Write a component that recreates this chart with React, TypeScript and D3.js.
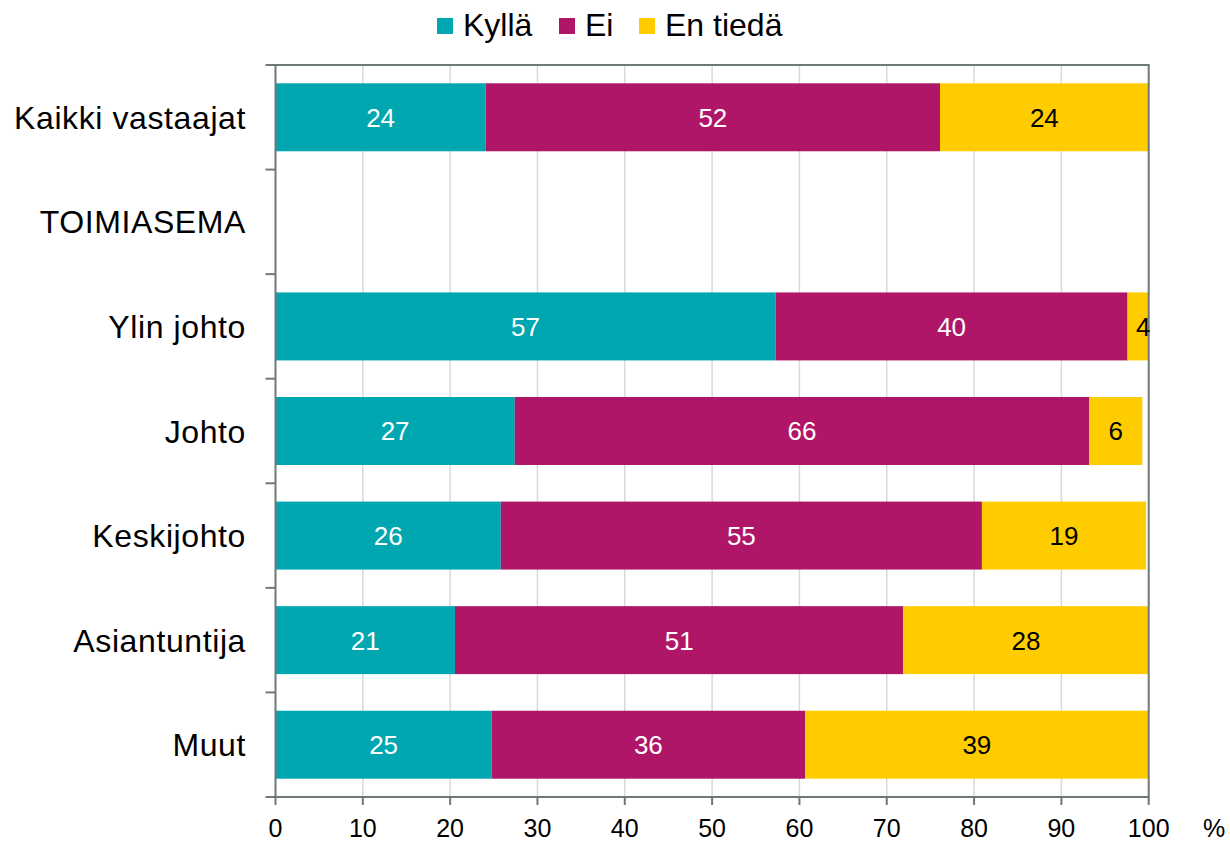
import React from "react";
import * as d3 from "d3";

const categories = ["Kaikki vastaajat", "TOIMIASEMA", "Ylin johto", "Johto", "Keskijohto", "Asiantuntija", "Muut"];
const kylla: (number | null)[] = [24.07, null, 57.28, 27.4, 25.8, 20.56, 24.76];
const ei: (number | null)[] = [52.03, null, 40.3, 65.8, 55.1, 51.34, 35.88];
const enTieda: (number | null)[] = [23.9, null, 3.6, 6.07, 18.8, 28.1, 39.36];
const seriesNames = ["Kyllä", "Ei", "En tiedä"];
const seriesColors = ["#00a6b0", "#b01667", "#ffcc00"];
const labelColors = ["#ffffff", "#ffffff", "#000000"];
const xTicks = [0, 10, 20, 30, 40, 50, 60, 70, 80, 90, 100];

const W = 1230;
const H = 842;
const M = { left: 275.5, right: 1148.7, top: 65, bottom: 797 };
const FONT = "'Liberation Sans', Arial, sans-serif";

export default function App() {
  const x = d3.scaleLinear().domain([0, 100]).range([M.left, M.right]);
  const y = d3
    .scaleBand<string>()
    .domain(categories)
    .range([M.top, M.bottom])
    .paddingInner(0.35)
    .paddingOuter(0.175);
  const step = y.step();
  const series = [kylla, ei, enTieda];
  const fmt = d3.format(".0f");

  const segs: any[] = [];
  categories.forEach((c, i) => {
    let acc = 0;
    series.forEach((s, si) => {
      const v = s[i];
      if (v == null) return;
      segs.push({ c, si, x0: acc, x1: acc + v, v });
      acc += v;
    });
  });

  const boundaries = d3.range(categories.length + 1).map((k) => M.top + k * step);

  const legendFont = 32;
  const sq = 16;
  const legendX = [437, 559, 639];

  return (
    <svg width={W} height={H} style={{ display: "block", position: "absolute", left: 0, top: 0 }} fontFamily={FONT}>
      <defs>
        <clipPath id="plotClip">
          <rect x={M.left} y={M.top} width={M.right - M.left} height={M.bottom - M.top} />
        </clipPath>
      </defs>
      <rect x={0} y={0} width={W} height={H} fill="#fff" />
      {xTicks.slice(1, -1).map((t) => (
        <line key={t} x1={x(t)} x2={x(t)} y1={M.top} y2={M.bottom} stroke="#d9d9d9" strokeWidth={1.5} />
      ))}
      <g clipPath="url(#plotClip)">
        {segs.map((s, k) => (
          <rect
            key={k}
            x={x(s.x0)}
            y={y(s.c)!}
            width={x(s.x1) - x(s.x0)}
            height={y.bandwidth()}
            fill={seriesColors[s.si]}
          />
        ))}
      </g>
      <rect x={M.left} y={M.top} width={M.right - M.left} height={M.bottom - M.top} fill="none" stroke="#6f7879" strokeWidth={2} />
      {boundaries.map((b, k) => (
        <line key={k} x1={M.left - 10} x2={M.left} y1={b} y2={b} stroke="#6f7879" strokeWidth={2} />
      ))}
      {xTicks.map((t) => (
        <g key={t}>
          <line x1={x(t)} x2={x(t)} y1={M.bottom} y2={M.bottom + 8} stroke="#6f7879" strokeWidth={2} />
          <text x={x(t)} y={837} textAnchor="middle" fontSize={25} fill="#000">
            {t}
          </text>
        </g>
      ))}
      <text x={1214} y={837} textAnchor="middle" fontSize={25} fill="#000">
        %
      </text>
      {categories.map((c) => (
        <text
          key={c}
          x={246}
          y={y(c)! + y.bandwidth() / 2}
          dy="0.36em"
          textAnchor="end"
          fontSize={32}
          letterSpacing={0.6}
          fill="#000"
        >
          {c}
        </text>
      ))}
      {segs.map((s, k) => (
        <text
          key={k}
          x={(x(s.x0) + x(s.x1)) / 2}
          y={y(s.c)! + y.bandwidth() / 2}
          dy="0.36em"
          textAnchor="middle"
          fontSize={26}
          fill={labelColors[s.si]}
        >
          {fmt(s.v)}
        </text>
      ))}
      {seriesNames.map((n, i) => (
        <g key={n}>
          <rect x={legendX[i]} y={18} width={sq} height={sq} fill={seriesColors[i]} />
          <text x={legendX[i] + sq + 10} y={36} fontSize={legendFont} fill="#000">
            {n}
          </text>
        </g>
      ))}
    </svg>
  );
}
